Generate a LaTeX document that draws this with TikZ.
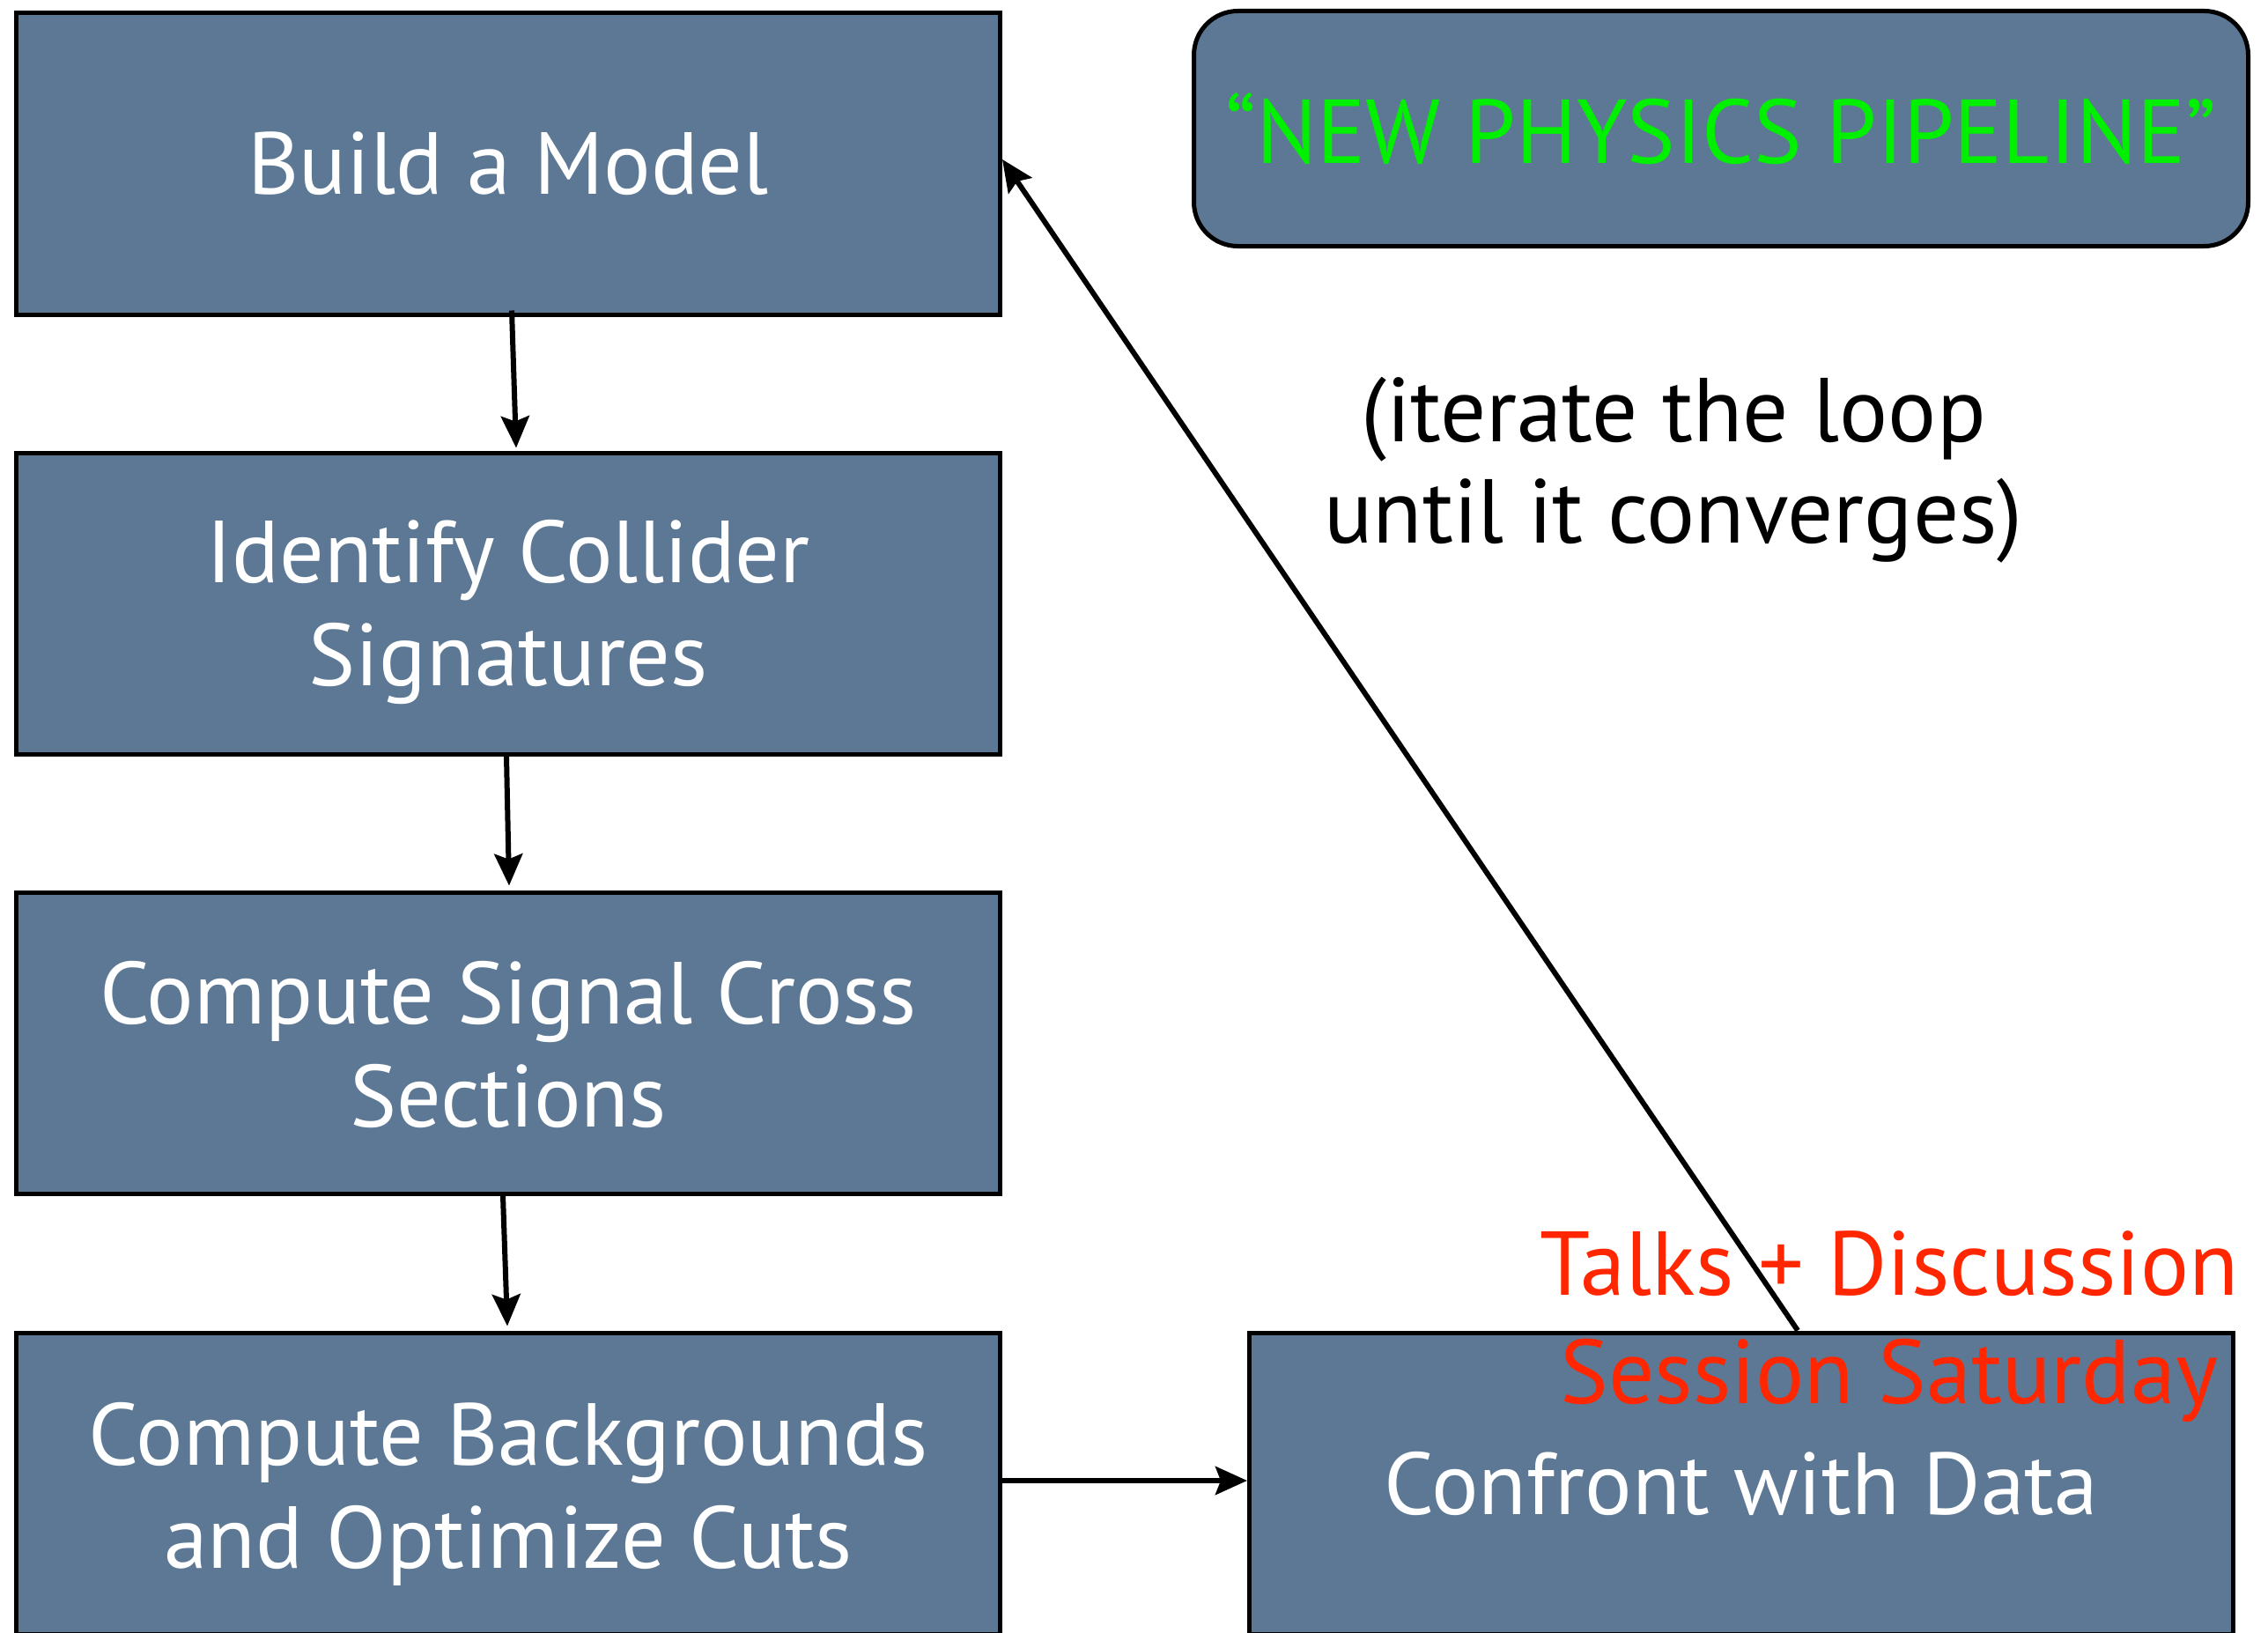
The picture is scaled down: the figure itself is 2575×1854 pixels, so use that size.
\documentclass[tikz,border=0pt]{standalone}
\usepackage{fontspec}
\setmainfont{PT Sans}
\usetikzlibrary{arrows.meta}
\definecolor{slate}{RGB}{93,120,149}
\definecolor{pipegreen}{RGB}{0,240,0}
\definecolor{talkred}{RGB}{255,38,0}
\newcommand{\lowertext}[2]{\raisebox{-#1}[\height][\depth]{\begin{tabular}{@{}c@{}}#2\end{tabular}}}
\begin{document}
\begin{tikzpicture}[x=1pt,y=-1pt,
  stepbox/.style={draw=black, line width=5pt, fill=slate, minimum width=1117pt,
    minimum height=342pt, text=white, align=center, inner sep=0pt,
    font=\fontsize{100}{117}\selectfont},
  titlebox/.style={draw=black, line width=5pt, fill=slate, rounded corners=50pt,
    minimum width=1197pt, minimum height=267pt, text=pipegreen, inner sep=0pt,
    font=\fontsize{103}{118}\selectfont},
  conn/.style={-{Stealth[length=36pt,width=32pt,inset=6pt]}, line width=6pt, black},
  note/.style={align=center, inner sep=0pt, font=\fontsize{103}{115}\selectfont},
  rednote/.style={align=center, inner sep=0pt, text=talkred, font=\fontsize{103}{123}\selectfont}]
\useasboundingbox (0,0) rectangle (2575,1854);
\fill[white] (0,0) rectangle (2575,1854);
\node[stepbox] (model) at (577,186) {Build a Model};
\node[stepbox] (sig) at (577,685) {\lowertext{12pt}{Identify Collider\\Signatures}};
\node[stepbox] (xsec) at (577,1184) {\lowertext{14pt}{Compute Signal Cross\\Sections}};
\node[stepbox] (bkg) at (577,1684) {\lowertext{15pt}{Compute Backgrounds\\and Optimize Cuts}};
\node[stepbox] (data) at (1977,1684) {Confront with Data};
\node[titlebox] (title) at (1954,146) {``NEW PHYSICS PIPELINE''};
\node[note] (iter) at (1900,534) {(iterate the loop\\until it converges)};
\node[rednote] (talks) at (2145,1506) {Talks + Discussion\\Session Saturday};
\draw[conn] ([xshift=4pt,yshift=7pt]model.south) -- ([xshift=9pt,yshift=3pt]sig.north);
\draw[conn] ([xshift=-2pt]sig.south) -- ([xshift=1pt,yshift=5pt]xsec.north);
\draw[conn] ([xshift=-6pt]xsec.south) -- ([xshift=-1pt,yshift=5pt]bkg.north);
\draw[conn] ([yshift=3pt]bkg.east) -- ([yshift=3pt]data.west);
\draw[conn] ([xshift=64pt]data.north) -- ([yshift=5pt]model.east);
\end{tikzpicture}
\end{document}
